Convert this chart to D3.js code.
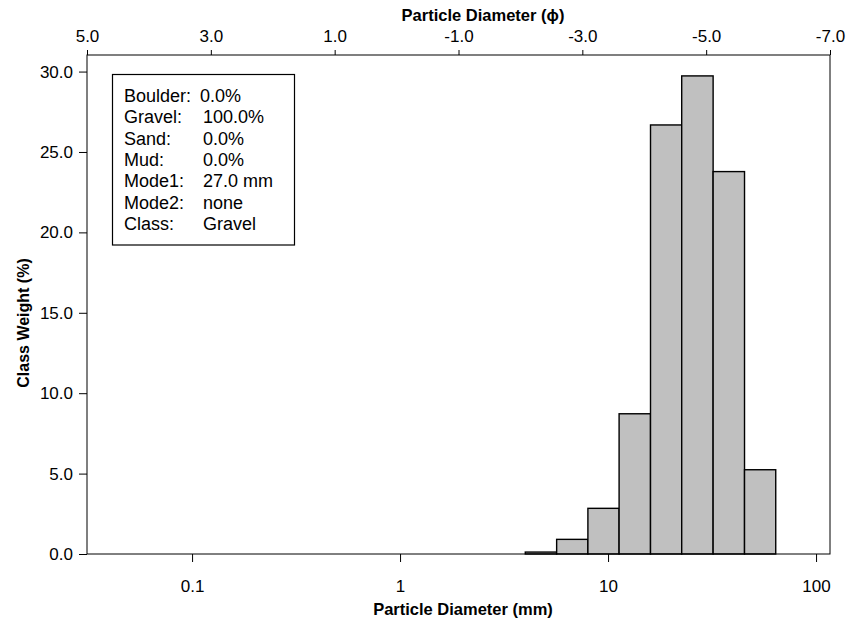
<!DOCTYPE html>
<html>
<head>
<meta charset="utf-8">
<script src="https://cdn.jsdelivr.net/npm/d3@7"></script>
<style>
  body { margin: 0; background: #fff; }
  svg { font-family: "Liberation Sans", Arial, sans-serif; }
</style>
</head>
<body>
<div id="chart"></div>
<script>
// half-phi size classes (mm) and class weights (%)
const binLower = [4, 5.66, 8, 11.3, 16, 22.6, 32, 45.3];
const binUpper = [5.66, 8, 11.3, 16, 22.6, 32, 45.3, 64];
const weights = [0.12, 0.91, 2.84, 8.72, 26.68, 29.73, 23.78, 5.24];

const mmTicks = [0.1, 1, 10, 100];
const phiTicks = [5, 3, 1, -1, -3, -5, -7];
const yTicks = [0, 5, 10, 15, 20, 25, 30];

const statLabels = ['Boulder:', 'Gravel:', 'Sand:', 'Mud:', 'Mode1:', 'Mode2:', 'Class:'];
const statValues = ['0.0%', '100.0%', '0.0%', '0.0%', '27.0 mm', 'none', 'Gravel'];

const [w, h] = [848, 622];
const [pLeft, pRight, pTop, pBottom] = [87, 830, 55, 554];

const svg = d3.select('#chart').append('svg')
  .attr('width', w).attr('height', h);

const x = d3.scaleLog().domain([0.03125, 116.7]).range([pLeft, pRight]);
const xPhi = d3.scaleLinear().domain([5, -7]).range([pLeft, pRight]);
const y = d3.scaleLinear().domain([0, 31.03]).range([pBottom, pTop]);

// bars
svg.append('g')
  .selectAll('rect')
  .data(weights)
  .join('rect')
  .attr('x', (d, i) => x(binLower[i]))
  .attr('width', (d, i) => x(binUpper[i]) - x(binLower[i]))
  .attr('y', d => y(d))
  .attr('height', d => y(0) - y(d))
  .attr('fill', '#c0c0c0')
  .attr('stroke', '#000')
  .attr('stroke-width', 1.4);

// frame
svg.append('rect')
  .attr('x', pLeft).attr('y', pTop)
  .attr('width', pRight - pLeft).attr('height', pBottom - pTop)
  .attr('fill', 'none').attr('stroke', '#000').attr('stroke-width', 1);

// bottom axis (mm)
const gx = svg.append('g')
  .attr('transform', `translate(0, ${pBottom})`)
  .call(d3.axisBottom(x).tickValues(mmTicks).tickFormat(d => String(d)).tickSizeOuter(0).tickSize(8).tickPadding(18));
gx.select('.domain').remove();
gx.selectAll('text').attr('font-size', '17px').attr('fill', '#000');
gx.selectAll('line').attr('stroke', '#000');

// top axis (phi)
const gt = svg.append('g')
  .attr('transform', `translate(0, ${pTop})`)
  .call(d3.axisTop(xPhi).tickValues(phiTicks).tickFormat(d => d.toFixed(1)).tickSizeOuter(0).tickSize(5).tickPadding(8));
gt.select('.domain').remove();
gt.selectAll('text').attr('font-size', '17px').attr('fill', '#000');
gt.selectAll('line').attr('stroke', '#000');

// left axis
const gy = svg.append('g')
  .attr('transform', `translate(${pLeft}, 0)`)
  .call(d3.axisLeft(y).tickValues(yTicks).tickFormat(d => d.toFixed(1)).tickSizeOuter(0).tickSize(8).tickPadding(6));
gy.select('.domain').remove();
gy.selectAll('text').attr('font-size', '17px').attr('fill', '#000');
gy.selectAll('line').attr('stroke', '#000');

// axis titles
svg.append('text')
  .text('Particle Diameter (mm)')
  .attr('x', 463).attr('y', 615)
  .attr('text-anchor', 'middle').attr('font-weight', 'bold').attr('font-size', '16.5px');
svg.append('text')
  .text('Particle Diameter (ϕ)')
  .attr('x', 483).attr('y', 21)
  .attr('text-anchor', 'middle').attr('font-weight', 'bold').attr('font-size', '16.5px');
svg.append('text')
  .text('Class Weight (%)')
  .attr('transform', 'translate(29, 323) rotate(-90)')
  .attr('text-anchor', 'middle').attr('font-weight', 'bold').attr('font-size', '16px');

// statistics box
svg.append('rect')
  .attr('x', 112.5).attr('y', 74.5).attr('width', 182).attr('height', 170.5)
  .attr('fill', '#fff').attr('stroke', '#000').attr('stroke-width', 1.2);
const stats = svg.append('g').attr('font-size', '18px');
stats.selectAll('text.lab')
  .data(statLabels).join('text').attr('class', 'lab')
  .attr('x', 124).attr('y', (d, i) => 102 + i * 21.3)
  .text(d => d);
stats.selectAll('text.val')
  .data(statValues).join('text').attr('class', 'val')
  .attr('x', (d, i) => i === 0 ? 200 : 203).attr('y', (d, i) => 102 + i * 21.3)
  .text(d => d);
</script>
</body>
</html>
